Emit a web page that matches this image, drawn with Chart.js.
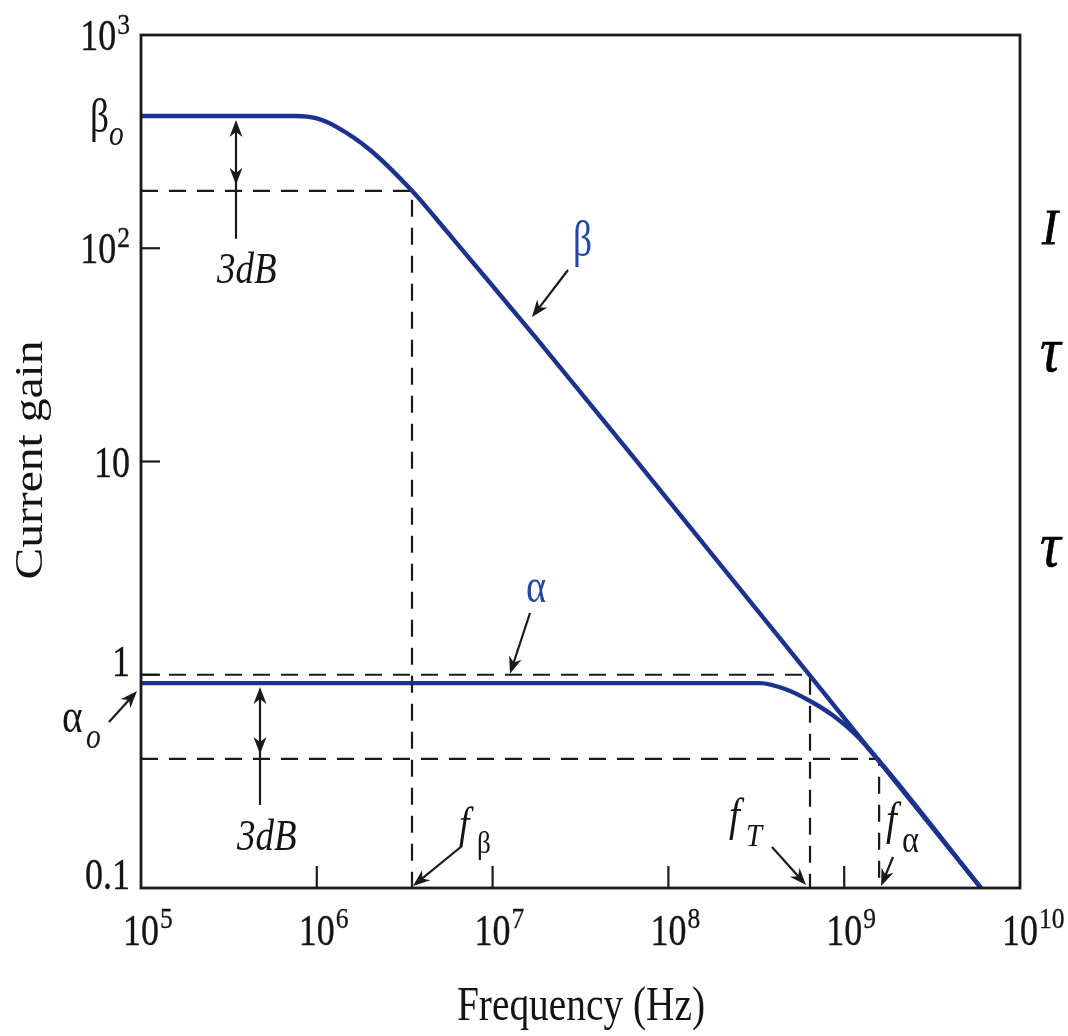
<!DOCTYPE html>
<html><head><meta charset="utf-8">
<script src="https://cdn.jsdelivr.net/npm/chart.js@4.4.1/dist/chart.umd.min.js"></script>
<style>html,body{margin:0;padding:0;background:#fff;overflow:hidden}</style>
</head><body>
<canvas id="c" width="1068" height="1036" style="width:1068px;height:1036px;display:block"></canvas>
<script>
// ---- data ----
const xTickValues = [1e5, 1e6, 1e7, 1e8, 1e9, 1e10];
const xTickExponents = ['5', '6', '7', '8', '9', '10'];
const yTickValues = [1000, 100, 10, 1, 0.1];
const yTickBases = ['10', '10', '10', '1', '0.1'];
const yTickExponents = ['3', '2', '', '', ''];

const betaFreq = [1e5, 7.6e5, 1.0e6, 1.30e6, 2.01e6, 3.48e6, 4.83e6, 7.44e6, 1.79e7, 7.86e7, 6.39e8, 6.0e9];
const betaGain = [417, 417, 406, 370, 289, 186, 136, 89, 37.5, 8.4, 0.99, 0.1];

const alphaFreq = [1e5, 3.32e8, 4.61e8, 6.39e8, 8.87e8, 1.152e9, 1.60e9, 6.0e9];
const alphaGain = [0.914, 0.914, 0.857, 0.753, 0.634, 0.528, 0.390, 0.1];

// guide lines: f_beta, f_T, f_alpha and their gain levels
const guideFreq = [3.48e6, 6.39e8, 1.58e9];
const guideGain = [186, 1, 0.403];
const guideNames = ['fβ', 'fT', 'fα'];

const xMin = 1e5, xMax = 1e10, yMin = 0.1, yMax = 1000;
const beta0 = betaGain[0], alpha0 = alphaGain[0];

// ---- styles ----
const CURVE = '#1b338c';
const LABELBLUE = '#2646a6';
const INK = '#141414';
const SERIF = '"Liberation Serif", "DejaVu Serif", serif';

function T(ctx, s, x, y, size, opt = {}) {
  ctx.save();
  ctx.translate(x, y);
  if (opt.rot) ctx.rotate(opt.rot);
  const sx = opt.sx ?? 0.8;
  ctx.scale(sx, 1);
  ctx.font = (opt.italic ? 'italic ' : '') + size + 'px ' + SERIF;
  ctx.fillStyle = opt.color || INK;
  ctx.textBaseline = 'alphabetic';
  const w = ctx.measureText(s).width;
  const dx = opt.align === 'center' ? -w / 2 : opt.align === 'right' ? -w : 0;
  ctx.fillText(s, dx, 0);
  if (opt.bold) { ctx.strokeStyle = opt.color || INK; ctx.lineWidth = opt.bold; ctx.strokeText(s, dx, 0); }
  ctx.restore();
  return w * sx;
}
function W(ctx, s, size, opt = {}) {
  ctx.save();
  ctx.font = (opt.italic ? 'italic ' : '') + size + 'px ' + SERIF;
  const w = ctx.measureText(s).width * (opt.sx ?? 0.8);
  ctx.restore();
  return w;
}
function head(ctx, x1, y1, x2, y2, len = 17, half = 6.5) {
  const a = Math.atan2(y2 - y1, x2 - x1), c = Math.cos(a), s = Math.sin(a);
  const bx = x2 - len * c, by = y2 - len * s, px = -s, py = c;
  ctx.beginPath();
  ctx.moveTo(x2, y2);
  ctx.lineTo(bx + px * half, by + py * half);
  ctx.lineTo(x2 - len * 0.7 * c, y2 - len * 0.7 * s);
  ctx.lineTo(bx - px * half, by - py * half);
  ctx.closePath();
  ctx.fill();
}
function arrow(ctx, x1, y1, x2, y2) {
  const a = Math.atan2(y2 - y1, x2 - x1);
  ctx.beginPath();
  ctx.moveTo(x1, y1);
  ctx.lineTo(x2 - 10 * Math.cos(a), y2 - 10 * Math.sin(a));
  ctx.stroke();
  head(ctx, x1, y1, x2, y2);
}
function line(ctx, x1, y1, x2, y2) {
  ctx.beginPath(); ctx.moveTo(x1, y1); ctx.lineTo(x2, y2); ctx.stroke();
}

const datasets = [
  {
    label: 'β', data: betaFreq.map((f, i) => ({ x: f, y: betaGain[i] })),
    borderColor: CURVE, borderWidth: 4.4, cubicInterpolationMode: 'monotone', pointRadius: 0, fill: false
  },
  {
    label: 'α', data: alphaFreq.map((f, i) => ({ x: f, y: alphaGain[i] })),
    borderColor: CURVE, borderWidth: 4.4, cubicInterpolationMode: 'monotone', pointRadius: 0, fill: false
  },
  ...guideFreq.map((f, i) => ({
    label: guideNames[i],
    data: [{ x: xMin, y: guideGain[i] }, { x: f, y: guideGain[i] }, { x: f, y: yMin }],
    borderColor: '#1a1a1a', borderWidth: 2.2, borderDash: [17, 11], pointRadius: 0, tension: 0, fill: false
  }))
];

const decor = {
  id: 'decor',
  afterDraw(chart) {
    const { ctx, chartArea: a, scales: { x: xs, y: ys } } = chart;
    const X = v => xs.getPixelForValue(v), Y = v => ys.getPixelForValue(v);
    ctx.save();
    ctx.strokeStyle = '#1a1a1a';
    ctx.fillStyle = '#1a1a1a';
    ctx.lineCap = 'butt';
    // inner ticks
    ctx.lineWidth = 2.2;
    xTickValues.slice(1, -1).forEach(v => line(ctx, X(v), a.bottom, X(v), a.bottom - 22));
    yTickValues.slice(1, -1).forEach(v => line(ctx, a.left, Y(v), a.left + 19, Y(v)));
    // frame
    ctx.lineWidth = 2.8;
    ctx.strokeRect(a.left, a.top, a.right - a.left, a.bottom - a.top);

    // x tick labels
    xTickValues.forEach((v, i) => {
      const px = X(v);
      const wb = W(ctx, '10', 45, { sx: 0.8 });
      const left = px - wb / 2;
      T(ctx, '10', left, a.bottom + 57, 45, { sx: 0.8, bold: 0.4 });
      T(ctx, xTickExponents[i], left + wb + 1, a.bottom + 40, 29, { sx: 0.88, bold: 0.3 });
    });
    // y tick labels
    yTickValues.forEach((v, i) => {
      const py = Y(v);
      const base = v <= 1 ? py + 1 : py + 15;
      const sup = yTickExponents[i];
      const ws = sup ? W(ctx, sup, 29, { sx: 0.88 }) + 1 : 0;
      const right = 130;
      T(ctx, yTickBases[i], right - ws, base, 45, { sx: 0.8, align: 'right', bold: 0.4 });
      if (sup) T(ctx, sup, right - ws + 1, base - 16, 29, { sx: 0.88, bold: 0.3 });
    });
    // axis titles
    T(ctx, 'Frequency (Hz)', 581, 1020, 48, { sx: 0.82, align: 'center' });
    T(ctx, 'Current gain', 42, 460, 41, { sx: 1.16, align: 'center', rot: -Math.PI / 2 });

    // beta_o label
    T(ctx, 'β', 90, 132, 48, { sx: 0.78 });
    T(ctx, 'o', 109, 145, 36, { sx: 0.82, italic: true });
    // alpha_o label
    T(ctx, 'α', 62, 732, 48, { sx: 0.82 });
    T(ctx, 'o', 86, 748, 36, { sx: 0.82, italic: true });
    ctx.lineWidth = 2.2;
    arrow(ctx, 109, 722, a.left - 4, Y(alpha0) + 8);

    // 3dB arrows
    const drawDB = (x, yTop, yBot, yEnd) => {
      line(ctx, x, yTop + 8, x, yEnd);
      head(ctx, x, yTop + 30, x, yTop);
      head(ctx, x, yBot - 30, x, yBot);
    };
    drawDB(236, Y(beta0) + 4, Y(guideGain[0]) - 6, Y(guideGain[0]) + 48);
    T(ctx, '3dB', 217, 283, 44, { sx: 0.84, italic: true });
    drawDB(260, Y(alpha0) + 4, Y(guideGain[2]) - 5, Y(guideGain[2]) + 46);
    T(ctx, '3dB', 237, 850, 44, { sx: 0.84, italic: true });

    // curve labels
    T(ctx, 'β', 573, 256, 50, { sx: 0.75, color: LABELBLUE });
    arrow(ctx, 568, 270, 532, 317);
    T(ctx, 'α', 526, 602, 48, { sx: 0.8, color: LABELBLUE });
    arrow(ctx, 530, 613, 510, Y(1) - 1);

    // frequency markers
    T(ctx, 'f', 459, 838, 44, { sx: 0.85, italic: true });
    T(ctx, 'β', 477, 853, 32, { sx: 0.85 });
    arrow(ctx, 462, 846, X(guideFreq[0]) + 1, a.bottom - 2);

    T(ctx, 'f', 729, 830, 46, { sx: 0.85, italic: true });
    T(ctx, 'T', 746, 846, 32, { sx: 0.9, italic: true });
    arrow(ctx, 772, 847, X(guideFreq[1]) - 4, a.bottom - 3);

    T(ctx, 'f', 886, 834, 46, { sx: 0.85, italic: true });
    T(ctx, 'α', 902, 852, 38, { sx: 0.85 });
    arrow(ctx, 893, 857, X(guideFreq[2]) + 2, a.bottom - 2);

    // cut-off text at the right edge
    T(ctx, 'I', 1042, 244, 50, { sx: 0.95, italic: true, color: '#000', bold: 0.8 });
    T(ctx, 'τ', 1040, 371, 64, { sx: 0.9, italic: true, color: '#000', bold: 0.6 });
    T(ctx, 'τ', 1040, 566, 64, { sx: 0.9, italic: true, color: '#000', bold: 0.6 });
    ctx.restore();
  }
};

new Chart(document.getElementById('c'), {
  type: 'line',
  data: { datasets },
  options: {
    responsive: false,
    animation: false,
    devicePixelRatio: 1,
    layout: { padding: { left: 141, right: 48, top: 35, bottom: 148 } },
    scales: {
      x: { type: 'logarithmic', min: xMin, max: xMax, display: false },
      y: { type: 'logarithmic', min: yMin, max: yMax, display: false }
    },
    plugins: { legend: { display: false }, tooltip: { enabled: false } },
    elements: { point: { radius: 0 } }
  },
  plugins: [decor]
});
</script>
</body></html>
